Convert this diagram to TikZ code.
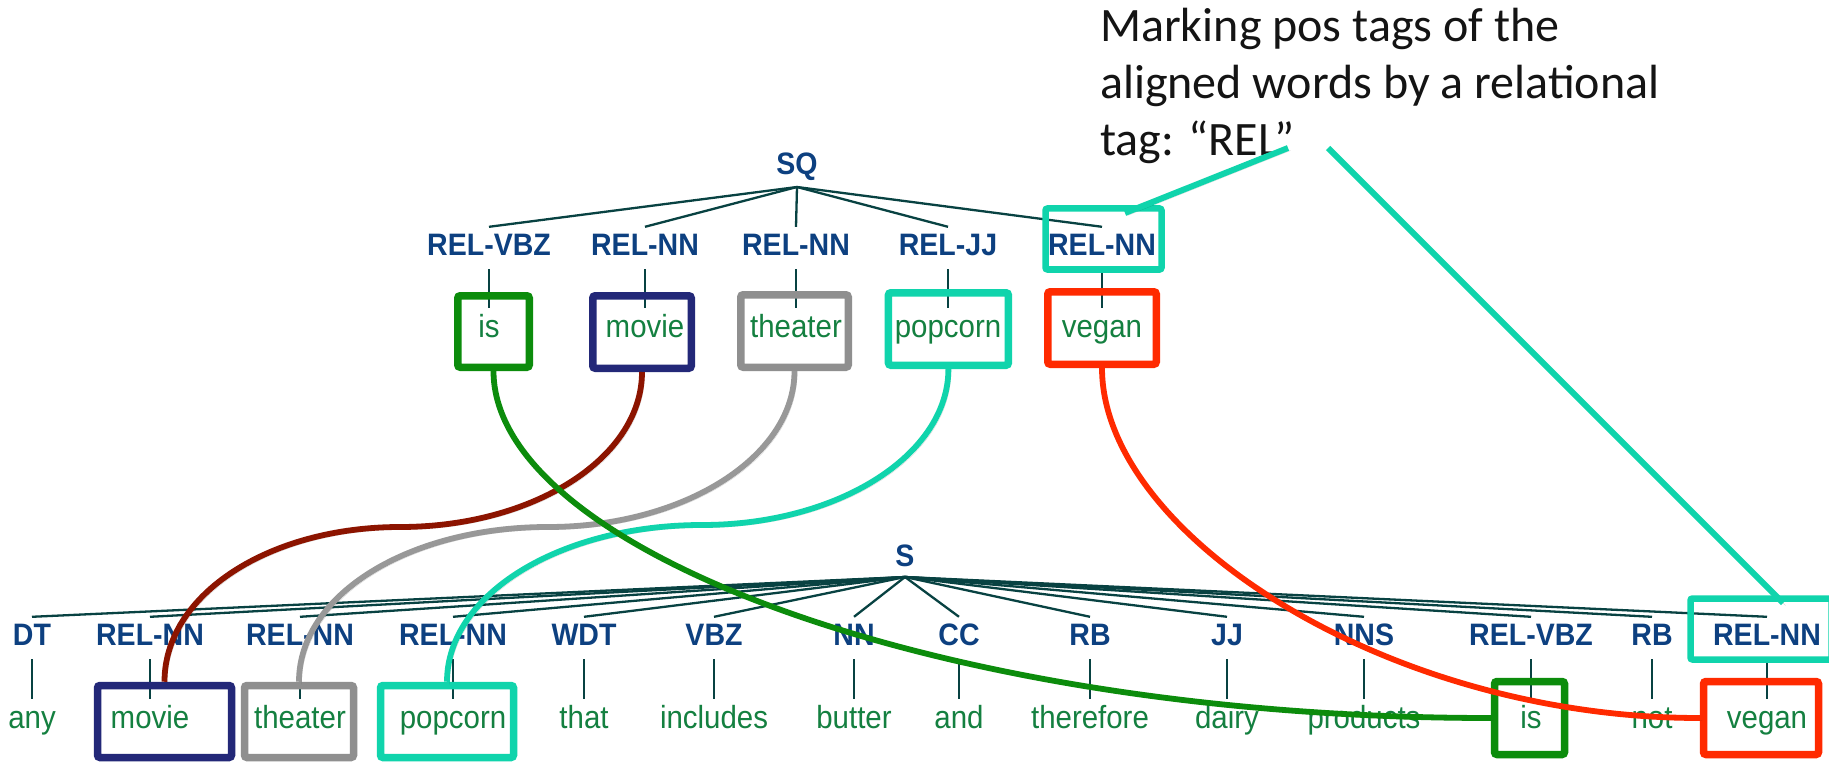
\documentclass[tikz,border=0pt]{standalone}
\usepackage{fontspec}
\setmainfont{Liberation Sans}
\newfontfamily\tagfont[FakeStretch=0.92]{Liberation Sans}
\newfontfamily\wordfont[FakeStretch=0.92]{Liberation Sans}
\newfontfamily\notefont{Carlito}
\usetikzlibrary{calc}

\definecolor{tagblue}{RGB}{13,64,128}
\definecolor{wordgreen}{RGB}{20,128,64}
\definecolor{treeline}{RGB}{8,66,66}
\definecolor{boxgreen}{RGB}{12,140,12}
\definecolor{boxnavy}{RGB}{35,40,120}
\definecolor{boxgray}{RGB}{143,143,143}
\definecolor{boxteal}{RGB}{16,212,172}
\definecolor{boxred}{RGB}{255,42,0}
\definecolor{linkred}{RGB}{140,20,0}
\definecolor{linkgray}{RGB}{152,152,152}

\begin{document}
\begin{tikzpicture}[x=1pt,y=-1pt,
  tag/.style={font={\tagfont\fontsize{31}{35}\bfseries}, text=tagblue, anchor=base,
    inner xsep=0pt, inner ysep=6.5pt, text height=22pt, text depth=7pt},
  word/.style={font={\wordfont\fontsize{32}{36}\selectfont}, text=wordgreen, anchor=base,
    inner xsep=0pt, inner ysep=7.5pt, text height=21.5pt, text depth=7pt},
  note/.style={font={\notefont\fontsize{48}{57}\selectfont}, text=black!92, anchor=base west, inner sep=0pt},
  tree/.style={draw=treeline, line width=2.3pt},
  stem/.style={draw=treeline, line width=1.9pt},
  wbox/.style={draw, fill=none, line width=7.5pt, rounded corners=2.5pt, inner sep=0pt},
  tbox/.style={draw=boxteal, fill=none, line width=6.5pt, rounded corners=2pt, inner sep=0pt},
  shade/.style={preaction={draw=black, draw opacity=0.16, transform canvas={shift={(2.5,2.5)}}}},
  link/.style={line width=5.8pt, shade},
  pointer/.style={draw=boxteal, line width=6pt, shade}
]
\fill[white] (0,0) rectangle (1829,762);
\useasboundingbox (0,0) rectangle (1829,762);

% ---- question tree ----
\node[tag] (sq) at (797,174.5) {SQ};
\coordinate (sqroot) at (797,187);
\foreach \x/\t/\w [count=\i] in {489/REL-VBZ/is, 645/REL-NN/movie, 796/REL-NN/theater,
    948/REL-JJ/popcorn, 1102/REL-NN/vegan} {
  \node[tag] (ta\i) at (\x,255.5) {\t};
  \node[word] (wa\i) at (\x,337.5) {\w};
  \draw[tree] (sqroot) -- (ta\i.north);
  \draw[stem] (ta\i.south) -- (wa\i.north);
}

% ---- sentence tree ----
\node[tag] (s) at (905,566.5) {S};
\coordinate (sroot) at (905,577);
\foreach \x/\t/\w [count=\i] in {32/DT/any, 150/REL-NN/movie, 300/REL-NN/theater,
    453/REL-NN/popcorn, 584/WDT/that, 714/VBZ/includes, 854/NN/butter, 959/CC/and,
    1090/RB/therefore, 1227/JJ/dairy, 1364/NNS/products, 1531/REL-VBZ/is,
    1652/RB/not, 1767/REL-NN/vegan} {
  \node[tag] (tb\i) at (\x,645.5) {\t};
  \node[word] (wb\i) at (\x,728) {\w};
  \draw[tree] (sroot) -- (tb\i.north);
  \draw[stem] (tb\i.south) -- (wb\i.north);
}

% ---- frames around aligned words ----
\node[wbox, draw=boxgreen, minimum width=71.5pt, minimum height=71.5pt] (bxIs) at (493.5,331.5) {};
\node[wbox, draw=boxnavy, minimum width=98.5pt, minimum height=72.5pt] (bxMovie) at (642,332) {};
\node[wbox, draw=boxgray, minimum width=107.5pt, minimum height=72.5pt] (bxTheater) at (794.5,331) {};
\node[wbox, draw=boxteal, minimum width=120pt, minimum height=72.5pt] (bxPopcorn) at (948.4,329) {};
\node[wbox, draw=boxred, minimum width=108.5pt, minimum height=72.5pt] (bxVegan) at (1102,328) {};
\node[tbox, minimum width=116pt, minimum height=61pt] (tealTop) at (1103.5,239) {};

\node[wbox, draw=boxnavy, minimum width=134pt, minimum height=72pt] (bbMovie) at (164.5,721.5) {};
\node[wbox, draw=boxgray, minimum width=109pt, minimum height=72pt] (bbTheater) at (299,721.5) {};
\node[wbox, draw=boxteal, minimum width=133pt, minimum height=72pt] (bbPopcorn) at (447,721.5) {};
\node[wbox, draw=boxgreen, minimum width=70pt, minimum height=73pt] (bbIs) at (1529.5,718) {};
\node[wbox, draw=boxred, minimum width=115pt, minimum height=73pt] (bbVegan) at (1761,718) {};
\node[tbox, minimum width=141pt, minimum height=61pt] (tealBottom) at (1761,629) {};

% ---- alignment links ----
\coordinate (mvBend) at (400,527);
\coordinate (thBend) at (548,527);
\coordinate (pcBend) at (702,525);

\draw[link, draw=linkred] (bxMovie.south) .. controls +(0,86) and +(133.6,0) .. (mvBend)
  .. controls +(-130,0) and +(0,-88) .. (bbMovie.north);
\draw[link, draw=linkgray] (bxTheater.south) .. controls +(0,86) and +(136,0) .. (thBend)
  .. controls +(-137.5,0) and +(0,-88) .. (bbTheater.north);
\draw[link, draw=boxteal] (bxPopcorn.south) .. controls +(0,86) and +(136,0) .. (pcBend)
  .. controls +(-141,0) and +(0,-88) .. (bbPopcorn.north);
\draw[link, draw=boxgreen] (bxIs.south) .. controls +(0,178) and +(-553,0) .. (bbIs.west);
\draw[link, draw=boxred] (bxVegan.south) .. controls +(0,166) and +(-313,0) .. (bbVegan.west);

% ---- note ----
\node[note] (note1) at (1100,42) {Marking pos tags of the};
\node[note] (note2) at (1100,99) {aligned words by a relational};
\node[note] (note3) at (1100,156) {tag: “REL”};

\coordinate (ptrA) at (1288,148);
\coordinate (ptrAend) at (1125,213);
\coordinate (ptrB) at (1328,148);
\coordinate (ptrBend) at (1783,603);
\draw[pointer] (ptrA) -- (ptrAend);
\draw[pointer] (ptrB) -- (ptrBend);
\end{tikzpicture}
\end{document}
